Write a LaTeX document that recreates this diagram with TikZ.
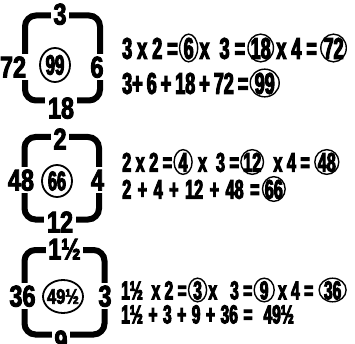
\documentclass[tikz,border=0pt]{standalone}
\usepackage{fontspec}
\setmainfont{Liberation Sans}
\newfontfamily\lblfont{Liberation Sans}[FakeStretch=0.78,FakeBold=3]
\newfontfamily\eqfont{Liberation Sans}[FakeStretch=0.6,FakeBold=3.5]
\usetikzlibrary{shapes.geometric,positioning}

\begin{document}
\begin{tikzpicture}[x=1pt,y=-1pt,
 frame/.style={line width=6pt,rounded corners=11pt},
 lbl/.style={fill=white,inner sep=2.5pt,text height=21pt,text depth=0pt,font=\lblfont\bfseries\fontsize{30}{30}\selectfont},
 mid/.style={inner sep=0pt,font=\eqfont\bfseries\fontsize{#1}{#1}\selectfont},
 ring/.style={line width=1.8pt},
 eq/.style={inner sep=0pt,text height=\dimexpr#1pt*72/100\relax,text depth=0pt,font=\eqfont\bfseries\fontsize{#1}{#1}\selectfont},
 cnum/.style={eq=#1,ellipse,draw,line width=1.4pt,inner sep=-1pt,minimum width=18pt}]
\useasboundingbox (0,0) rectangle (355,344);
% first square: 3, 6, 18, 72
\draw[frame] (25,15.5) rectangle (100,100.5);
\node[lbl] (t1) at (60,14) {3};\node[lbl] (l1) at (13,67) {72};\node[lbl] (r1) at (97,67) {6};\node[lbl] (b1) at (61,108) {18};
\node[mid=28] (c1) at (55,65) {99};\draw[ring] (c1) ellipse[x radius=15,y radius=17];
\node[eq=30,anchor=west] (e1a) at (122,48) {3 x 2 =};\node[cnum=30,right=1pt of e1a] (e1b) {6};\node[eq=30,right=1pt of e1b] (e1c) {x\ \ 3 =};
\node[cnum=30,minimum width=25pt,right=2pt of e1c] (e1d) {18};\node[eq=30,right=2pt of e1d] (e1e) {x 4 =};\node[cnum=30,minimum width=25pt,right=3pt of e1e] (e1f) {72};
\node[eq=30,anchor=west] (e1g) at (122,83) {\spaceskip4pt 3+ 6 + 18 + 72 =};\node[cnum=30,minimum width=29pt,right=1pt of e1g] (e1h) {99};
% second square: 2, 4, 12, 48
\draw[frame] (24.5,137) rectangle (99,219.5);
\node[lbl] (t2) at (60,139) {2};\node[lbl] (l2) at (21,180) {48};\node[lbl] (r2) at (97.5,180) {4};\node[lbl] (b2) at (60,222) {12};
\node[mid=27] (c2) at (57,181) {66};\draw[ring] (c2) ellipse[x radius=15,y radius=16];
\node[eq=27,anchor=west] (e2a) at (122,162) {2 x 2 =};\node[cnum=27,right=1pt of e2a] (e2b) {4};\node[eq=27,right=5pt of e2b] (e2c) {x\ \ 3 =};
\node[cnum=27,minimum width=22pt,right=1pt of e2c] (e2d) {12};\node[eq=27,right=9pt of e2d] (e2e) {x 4 =};\node[cnum=27,minimum width=24pt,right=4pt of e2e] (e2f) {48};
\node[eq=27,anchor=west] (e2g) at (122,189) {\spaceskip6.5pt 2 + 4 + 12 + 48 =};\node[cnum=27,minimum width=22pt,right=2pt of e2g] (e2h) {66};
% third square: 1 1/2, 3, 9, 36
\draw[frame] (24.5,250) rectangle (104.5,334.5);
\node[lbl] (t3) at (64.5,249) {1½};\node[lbl] (l3) at (22.5,296) {36};\node[lbl] (r3) at (105,296) {3};\node[lbl] (b3) at (61,341) {9};
\node[mid=21,font=\lblfont\bfseries\fontsize{21}{21}\selectfont] (c3) at (63,296.5) {49½};\draw[ring] (c3) ellipse[x radius=20,y radius=16.5];
\node[eq=26,anchor=west] (e3a) at (121,290) {1½\ \ x 2 =};\node[cnum=26,right=1pt of e3a] (e3b) {3};\node[eq=26,right=1pt of e3b] (e3c) {x\ \ \ 3 =};
\node[cnum=26,minimum width=20pt,right=1pt of e3c] (e3d) {9};\node[eq=26,right=3pt of e3d] (e3e) {x 4 =};\node[cnum=26,minimum width=27pt,right=5pt of e3e] (e3f) {36};
\node[eq=26,anchor=west] (e3g) at (121,314) {\spaceskip5.5pt 1½ + 3 + 9 + 36 = \ 49½};
\end{tikzpicture}
\end{document}
